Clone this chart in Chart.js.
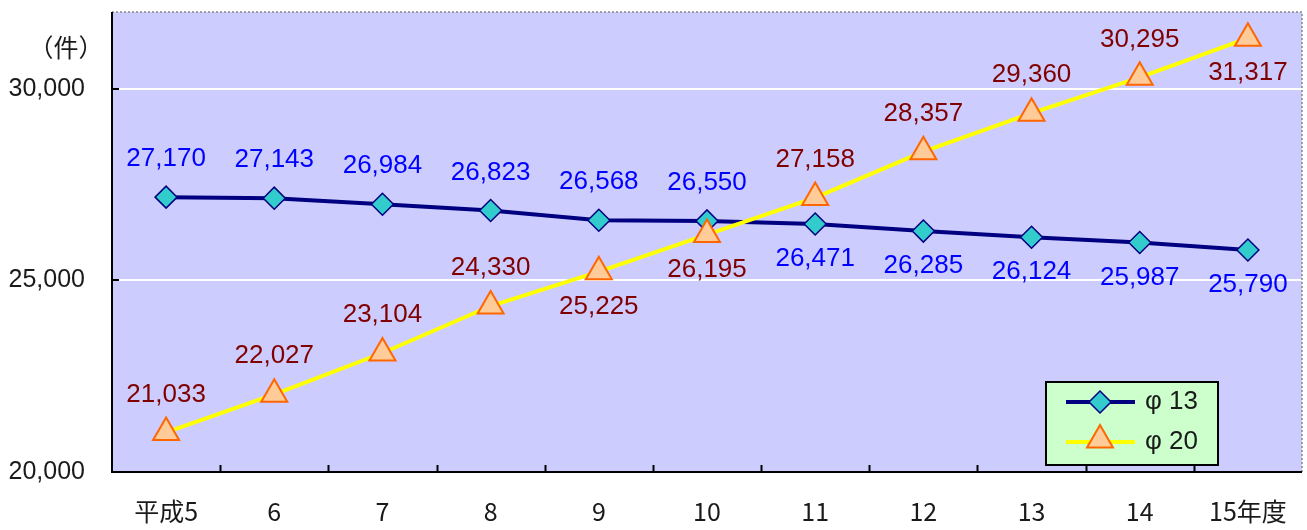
<!DOCTYPE html>
<html><head><meta charset="utf-8">
<script src="https://cdn.jsdelivr.net/npm/chart.js@4/dist/chart.umd.min.js"></script>
<style>html,body{margin:0;padding:0;background:#fff;}#wrap{width:1307px;height:530px;position:relative;}</style>
</head><body><div id="wrap"><canvas id="c" width="1307" height="530"></canvas></div>
<script>
const categories = ['平成5','6','7','8','9','10','11','12','13','14','15年度'];
const phi13 = [27170,27143,26984,26823,26568,26550,26471,26285,26124,25987,25790];
const phi20 = [21033,22027,23104,24330,25225,26195,27158,28357,29360,30295,31317];
const seriesNames = ['φ 13','φ 20'];
const yTicks = [20000,25000,30000];
const labelSide13 = ['a','a','a','a','a','a','b','b','b','b','b'];
const labelSide20 = ['a','a','a','a','b','b','a','a','a','a','b'];

const FONT = '"Liberation Sans", Arial, sans-serif';
const fmt = v => v.toLocaleString('en-US');

const decor = {
  id: 'decor',
  beforeDatasetsDraw(chart) {
    const {ctx, chartArea: a, scales: {x, y}} = chart;
    ctx.save();
    ctx.strokeStyle = '#000'; ctx.lineWidth = 2;
    for (let i = 1; i < categories.length; i++) {
      const px = Math.round((x.getPixelForTick(i-1) + x.getPixelForTick(i)) / 2) + 0.5;
      ctx.beginPath(); ctx.moveTo(px, a.bottom); ctx.lineTo(px, a.bottom - 7); ctx.stroke();
    }
    [25000, 30000].forEach(v => {
      const py = Math.round(y.getPixelForValue(v));
      ctx.beginPath(); ctx.moveTo(a.left, py); ctx.lineTo(a.left + 7, py); ctx.stroke();
    });
    ctx.strokeStyle = '#888'; ctx.lineWidth = 1.5; ctx.setLineDash([2, 2]);
    ctx.beginPath(); ctx.moveTo(a.left, a.top); ctx.lineTo(a.right, a.top); ctx.lineTo(a.right, a.bottom); ctx.stroke();
    ctx.setLineDash([]);
    ctx.strokeStyle = '#000'; ctx.lineWidth = 2;
    ctx.beginPath(); ctx.moveTo(a.left, a.top); ctx.lineTo(a.left, a.bottom); ctx.lineTo(a.right, a.bottom); ctx.stroke();
    ctx.fillStyle = '#1a1a1a'; ctx.font = '25px "Noto Sans CJK JP", sans-serif';
    ctx.textAlign = 'center'; ctx.textBaseline = 'middle';
    ctx.fillText('（件）', a.left - 46, y.getPixelForValue(30000) - 41);
    ctx.restore();
  },
  afterDatasetsDraw(chart) {
    const {ctx, chartArea: a} = chart;
    ctx.save();
    ctx.font = '26px ' + FONT; ctx.textAlign = 'center'; ctx.textBaseline = 'middle';
    const specs = [
      {ds: 0, data: phi13, side: labelSide13, color: '#0000FF'},
      {ds: 1, data: phi20, side: labelSide20, color: '#800000'}
    ];
    specs.forEach(s => {
      const meta = chart.getDatasetMeta(s.ds);
      ctx.fillStyle = s.color;
      meta.data.forEach((pt, i) => {
        const dy = s.side[i] === 'a' ? -38 : 35;
        ctx.fillText(fmt(s.data[i]), pt.x, pt.y + dy);
      });
    });
    const lx = a.right - 256, by = a.bottom - 90;
    const bw = 172, bh = 83;
    ctx.fillStyle = '#CCFFCC'; ctx.fillRect(lx, by, bw, bh);
    ctx.strokeStyle = '#000'; ctx.lineWidth = 2; ctx.strokeRect(lx, by, bw, bh);
    const rows = [
      {y: by + 20, color: '#000080', lw: 4, ps: 'rectRot', r: 11, bg: '#33CCCC', bc: '#000080', bwid: 1.5},
      {y: by + 60, color: '#FFFF00', lw: 4, ps: 'triangle', r: 15, bg: '#FFCC99', bc: '#FF6600', bwid: 2}
    ];
    rows.forEach((r, i) => {
      ctx.strokeStyle = r.color; ctx.lineWidth = r.lw;
      ctx.beginPath(); ctx.moveTo(lx + 20, r.y); ctx.lineTo(lx + 89, r.y); ctx.stroke();
      ctx.fillStyle = r.bg; ctx.strokeStyle = r.bc; ctx.lineWidth = r.bwid;
      Chart.helpers.drawPoint(ctx, {pointStyle: r.ps, radius: r.r, rotation: 0, borderWidth: r.bwid}, lx + 54, r.ps === 'triangle' ? r.y - 2 : r.y);
      ctx.fillStyle = '#1a1a1a'; ctx.font = '26px ' + FONT; ctx.textAlign = 'left';
      ctx.fillText(seriesNames[i], lx + 99, r.y);
    });
    ctx.restore();
  }
};

new Chart(document.getElementById('c'), {
  type: 'line',
  data: {
    labels: categories,
    datasets: [
      {label: seriesNames[0], data: phi13, borderColor: '#000080', borderWidth: 4,
       pointStyle: 'rectRot', pointRadius: 11, pointBackgroundColor: '#33CCCC',
       pointBorderColor: '#000080', pointBorderWidth: 1.5, tension: 0, order: 2},
      {label: seriesNames[1], data: phi20, borderColor: '#FFFF00', borderWidth: 4,
       pointStyle: 'triangle', pointRadius: 15, pointBackgroundColor: '#FFCC99',
       pointBorderColor: '#FF6600', pointBorderWidth: 2, tension: 0, order: 1}
    ]
  },
  options: {
    responsive: false, animation: false, devicePixelRatio: 1,
    layout: {autoPadding: false, padding: {top: 12, right: 5, left: 0, bottom: 0}},
    plugins: {legend: {display: false}, tooltip: {enabled: false}},
    scales: {
      x: {
        offset: true,
        grid: {display: false, drawTicks: false},
        border: {display: false},
        ticks: {color: '#1a1a1a', font: {size: 25, family: '"Noto Sans CJK JP", ' + FONT}, padding: 24, maxRotation: 0, autoSkip: false},
        afterFit(s) { s.height = 58; s.paddingLeft = 0; s.paddingRight = 0; }
      },
      y: {
        min: 20000, max: 32000,
        grid: {color: c => (c.tick && c.tick.value === 20000) ? 'rgba(0,0,0,0)' : '#FFFFFF', lineWidth: 2, drawTicks: false},
        border: {display: false},
        afterBuildTicks(s) { s.ticks = yTicks.map(v => ({value: v})); },
        ticks: {color: '#1a1a1a', font: {size: 25, family: FONT}, padding: 27, callback: v => fmt(v)},
        afterFit(s) { s.width = 112; s.paddingTop = 0; s.paddingBottom = 0; }
      }
    }
  },
  plugins: [{id: 'bg', beforeDraw(chart) {
    const {ctx, chartArea: a} = chart;
    ctx.save(); ctx.fillStyle = '#CCCCFF'; ctx.fillRect(a.left, a.top, a.right - a.left, a.bottom - a.top); ctx.restore();
  }}, decor]
});
</script></body></html>
